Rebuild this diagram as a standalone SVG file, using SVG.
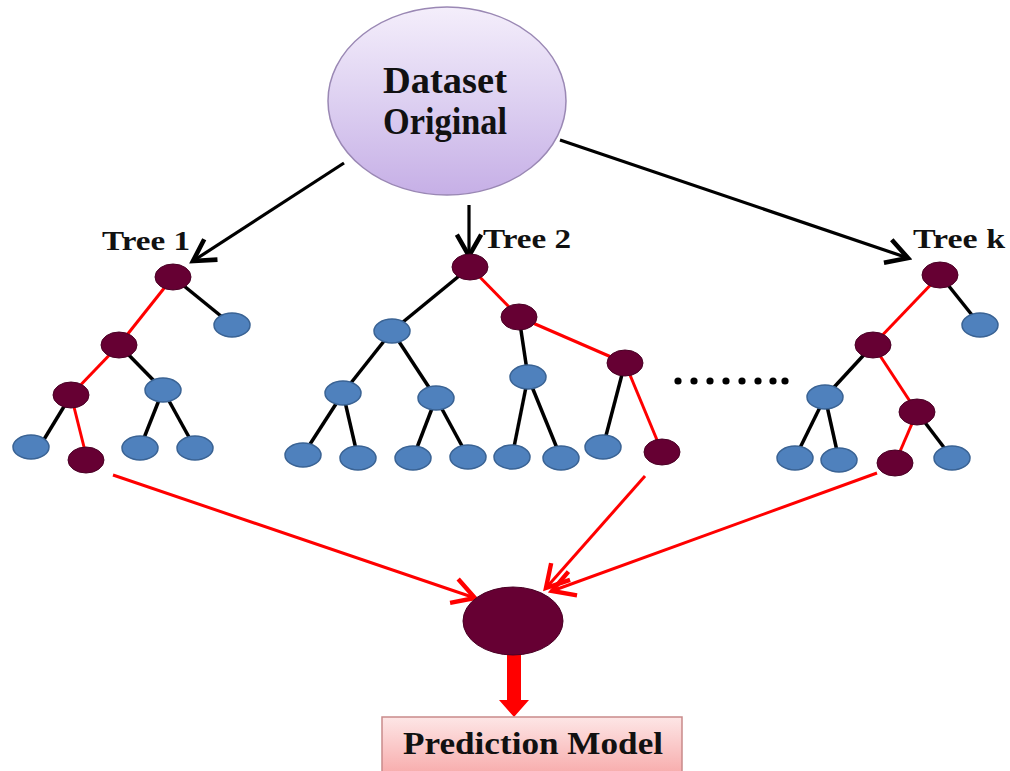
<svg xmlns="http://www.w3.org/2000/svg" width="1010" height="771" viewBox="0 0 1010 771">
  <defs>
    <linearGradient id="lavender" x1="0" y1="0" x2="0" y2="1">
      <stop offset="0" stop-color="#f4eefb"/>
      <stop offset="0.5" stop-color="#ddd0f1"/>
      <stop offset="1" stop-color="#c6afe6"/>
    </linearGradient>
    <linearGradient id="pink" x1="0" y1="0" x2="0" y2="1">
      <stop offset="0" stop-color="#fde6e6"/>
      <stop offset="1" stop-color="#f7a9a9"/>
    </linearGradient>
    <marker id="openBlack" viewBox="0 0 20 20" refX="17" refY="10" markerWidth="9.5" markerHeight="9.5" orient="auto" markerUnits="strokeWidth">
      <polyline points="3,2 17,10 3,18" fill="none" stroke="#000" stroke-width="3" stroke-linejoin="miter"/>
    </marker>
    <marker id="openRed" viewBox="0 0 20 20" refX="17" refY="10" markerWidth="10.5" markerHeight="10.5" orient="auto" markerUnits="strokeWidth">
      <polyline points="3,2 17,10 3,18" fill="none" stroke="#f00" stroke-width="2.8" stroke-linejoin="miter"/>
    </marker>
  </defs>
  <style>
    .lbl { font-family: "Liberation Serif", "Times New Roman", serif; font-weight: bold; fill: #111; }
    .blk { stroke: #000; stroke-width: 3.5; fill: none; }
    .red { stroke: #f00; stroke-width: 3; fill: none; }
    .m { fill: #660033; stroke: #4a0025; stroke-width: 1; }
    .b { fill: #4f81bd; stroke: #3a6394; stroke-width: 1.5; }
    .arrowB { stroke: #000; stroke-width: 3.2; fill: none; marker-end: url(#openBlack); }
    .arrowR { stroke: #f00; stroke-width: 3; fill: none; marker-end: url(#openRed); }
  </style>

  <rect width="1010" height="771" fill="#fff"/>

  <!-- connectors -->
  <g id="connectors">
    <!-- dataset to trees -->
    <line class="arrowB" x1="344" y1="163" x2="193" y2="261"/>
    <line class="arrowB" x1="469" y1="205" x2="469" y2="256"/>
    <line class="arrowB" x1="560" y1="140" x2="908" y2="258"/>

    <!-- tree 1 edges -->
    <line class="blk" x1="173" y1="277" x2="232" y2="325"/>
    <line class="red" x1="173" y1="277" x2="119" y2="345"/>
    <line class="red" x1="119" y1="345" x2="71" y2="395"/>
    <line class="blk" x1="119" y1="345" x2="163" y2="390"/>
    <line class="blk" x1="71" y1="395" x2="40" y2="446"/>
    <line class="red" x1="71" y1="395" x2="86" y2="455"/>
    <line class="blk" x1="163" y1="390" x2="140" y2="448"/>
    <line class="blk" x1="163" y1="390" x2="195" y2="448"/>

    <!-- tree 2 edges -->
    <line class="blk" x1="470" y1="267" x2="392" y2="331"/>
    <line class="red" x1="470" y1="267" x2="519" y2="317"/>
    <line class="blk" x1="392" y1="331" x2="343" y2="393"/>
    <line class="blk" x1="392" y1="331" x2="436" y2="398"/>
    <line class="blk" x1="343" y1="393" x2="303" y2="455"/>
    <line class="blk" x1="343" y1="393" x2="358" y2="458"/>
    <line class="blk" x1="436" y1="398" x2="413" y2="458"/>
    <line class="blk" x1="436" y1="398" x2="468" y2="457"/>
    <line class="blk" x1="519" y1="317" x2="528" y2="377"/>
    <line class="red" x1="519" y1="317" x2="625" y2="363"/>
    <line class="blk" x1="528" y1="377" x2="512" y2="457"/>
    <line class="blk" x1="528" y1="377" x2="561" y2="458"/>
    <line class="blk" x1="625" y1="363" x2="603" y2="447"/>
    <line class="red" x1="625" y1="363" x2="662" y2="452"/>

    <!-- tree k edges -->
    <line class="blk" x1="940" y1="275" x2="980" y2="325"/>
    <line class="red" x1="940" y1="275" x2="873" y2="345"/>
    <line class="blk" x1="873" y1="345" x2="825" y2="397"/>
    <line class="red" x1="873" y1="345" x2="917" y2="412"/>
    <line class="blk" x1="825" y1="397" x2="795" y2="458"/>
    <line class="blk" x1="825" y1="397" x2="839" y2="460"/>
    <line class="red" x1="917" y1="412" x2="895" y2="463"/>
    <line class="blk" x1="917" y1="412" x2="952" y2="458"/>

    <!-- trees to aggregate node -->
    <line class="arrowR" x1="113" y1="475" x2="475" y2="598"/>
    <line class="arrowR" x1="645" y1="476" x2="546" y2="588"/>
    <line class="arrowR" x1="877" y1="473" x2="552" y2="591"/>

    <!-- aggregate to prediction model -->
    <polygon points="507,652 521,652 521,700 529,700 514,717 499,700 507,700" fill="#f00"/>
  </g>

  <g id="dataset">
    <ellipse cx="447" cy="101" rx="119" ry="94" fill="url(#lavender)" stroke="#9a88b4" stroke-width="1.5"/>
    <text class="lbl" x="445" y="93" font-size="37" text-anchor="middle" textLength="124" lengthAdjust="spacingAndGlyphs">Dataset</text>
    <text class="lbl" x="445" y="134" font-size="37" text-anchor="middle" textLength="124" lengthAdjust="spacingAndGlyphs">Original</text>
  </g>

  <g id="tree1">
    <text class="lbl" x="102" y="250" font-size="28" textLength="88" lengthAdjust="spacingAndGlyphs">Tree 1</text>
    <ellipse class="m" cx="173" cy="277" rx="18" ry="13"/>
    <ellipse class="b" cx="232" cy="325" rx="18" ry="12"/>
    <ellipse class="m" cx="119" cy="345" rx="18" ry="13"/>
    <ellipse class="m" cx="71" cy="395" rx="18" ry="13"/>
    <ellipse class="b" cx="163" cy="390" rx="18" ry="12"/>
    <ellipse class="b" cx="31" cy="447" rx="18" ry="12"/>
    <ellipse class="m" cx="86" cy="460" rx="18" ry="13"/>
    <ellipse class="b" cx="140" cy="448" rx="18" ry="12"/>
    <ellipse class="b" cx="195" cy="448" rx="18" ry="12"/>
  </g>

  <g id="tree2">
    <text class="lbl" x="483" y="248" font-size="28" textLength="88" lengthAdjust="spacingAndGlyphs">Tree 2</text>
    <ellipse class="m" cx="470" cy="267" rx="18" ry="13"/>
    <ellipse class="b" cx="392" cy="331" rx="18" ry="12"/>
    <ellipse class="m" cx="519" cy="317" rx="18" ry="13"/>
    <ellipse class="b" cx="343" cy="393" rx="18" ry="12"/>
    <ellipse class="b" cx="436" cy="398" rx="18" ry="12"/>
    <ellipse class="b" cx="528" cy="377" rx="18" ry="12"/>
    <ellipse class="m" cx="625" cy="363" rx="18" ry="13"/>
    <ellipse class="b" cx="303" cy="455" rx="18" ry="12"/>
    <ellipse class="b" cx="358" cy="458" rx="18" ry="12"/>
    <ellipse class="b" cx="413" cy="458" rx="18" ry="12"/>
    <ellipse class="b" cx="468" cy="457" rx="18" ry="12" fill="#5b8fd0"/>
    <ellipse class="b" cx="512" cy="457" rx="18" ry="12"/>
    <ellipse class="b" cx="561" cy="458" rx="18" ry="12"/>
    <ellipse class="b" cx="603" cy="447" rx="18" ry="12" fill="#5b8fd0"/>
    <ellipse class="m" cx="662" cy="452" rx="18" ry="13"/>
  </g>

  <g id="ellipsis">
    <circle cx="678" cy="381" r="3.6"/>
    <circle cx="694" cy="381" r="3.6"/>
    <circle cx="710" cy="381" r="3.6"/>
    <circle cx="726" cy="381" r="3.6"/>
    <circle cx="742" cy="381" r="3.6"/>
    <circle cx="758" cy="381" r="3.6"/>
    <circle cx="773" cy="381" r="3.6"/>
    <circle cx="785" cy="381" r="3.6"/>
  </g>

  <g id="treek">
    <text class="lbl" x="913" y="248" font-size="28" textLength="92" lengthAdjust="spacingAndGlyphs">Tree k</text>
    <ellipse class="m" cx="940" cy="275" rx="18" ry="13"/>
    <ellipse class="b" cx="980" cy="325" rx="18" ry="12"/>
    <ellipse class="m" cx="873" cy="345" rx="18" ry="13"/>
    <ellipse class="b" cx="825" cy="397" rx="18" ry="12"/>
    <ellipse class="m" cx="917" cy="412" rx="18" ry="13"/>
    <ellipse class="b" cx="795" cy="458" rx="18" ry="12"/>
    <ellipse class="b" cx="839" cy="460" rx="18" ry="12"/>
    <ellipse class="m" cx="895" cy="463" rx="18" ry="13"/>
    <ellipse class="b" cx="952" cy="458" rx="18" ry="12"/>
  </g>

  <g id="aggregate">
    <ellipse cx="513" cy="621" rx="50" ry="34" fill="#660033" stroke="#4a0025" stroke-width="1"/>
  </g>

  <g id="prediction">
    <rect x="382" y="717" width="300" height="60" fill="url(#pink)" stroke="#c98a8a" stroke-width="1.5"/>
    <text class="lbl" x="403" y="754" font-size="32" textLength="260" lengthAdjust="spacingAndGlyphs">Prediction Model</text>
  </g>
</svg>
